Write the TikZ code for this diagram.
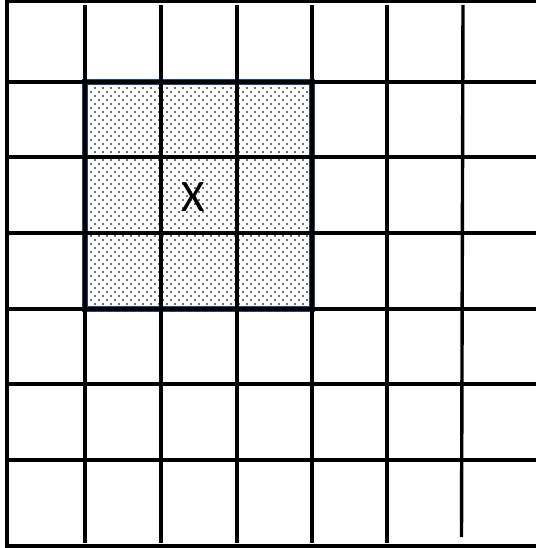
\documentclass[tikz,border=0pt]{standalone}
\usepackage{fontspec}
\setmainfont{Carlito}
\definecolor{boxblue}{RGB}{40,68,115}
\definecolor{dotgray}{RGB}{60,60,60}
\begin{document}
\begin{tikzpicture}[x=1pt,y=-1pt,
  gridline/.style={line width=3.4pt,black},
  frameline/.style={line width=3.2pt,black},
  boxedge/.style={line width=5.4pt,boxblue},
  dotstyle/.style={fill=dotgray}]
\useasboundingbox (0,0) rectangle (536,548);
\fill[white] (0,0) rectangle (536,548);
% dotted shaded block
\begin{scope}
  \clip (85,82) rectangle (312,309);
  \foreach \r [evaluate=\r as \off using {4*mod(\r,2)}] in {0,...,57}{
    \foreach \c in {0,...,29}{
      \fill[dotstyle] ({83+8*\c+\off},{84+4*\r}) circle (1.1);
    }
  }
\end{scope}
\draw[boxedge] (85,82) rectangle (312,309);
% outer frame (top, left, bottom)
\draw[frameline] (536,1.6) -- (7,1.6) -- (7,546) -- (536,546);
% vertical grid lines
\foreach \xx in {85,161,237,312,387}{
  \draw[gridline] (\xx,5) -- (\xx,543);
}
\draw[gridline] (463,5) -- (461.5,537);
% horizontal grid lines
\foreach \yy in {82,157,233,309,384,460}{
  \draw[gridline] (7,\yy) -- (536,\yy);
}
\node[inner sep=0pt,font=\fontsize{45}{45}\selectfont] (x) at (193,197) {X};
\end{tikzpicture}
\end{document}
